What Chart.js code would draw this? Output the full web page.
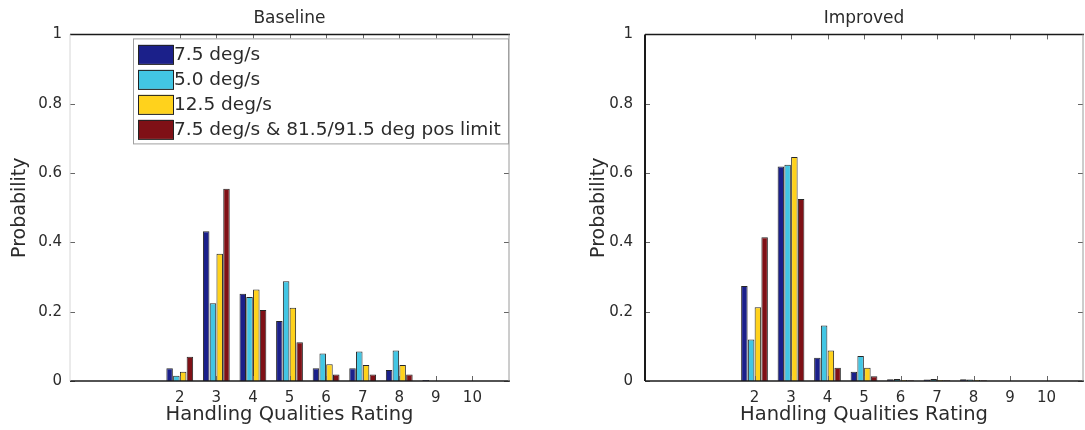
<!DOCTYPE html>
<html>
<head>
<meta charset="utf-8">
<script src="https://cdn.jsdelivr.net/npm/chart.js@4.4.1/dist/chart.umd.min.js"></script>
<style>
  body { margin: 0; background: #fff; }
  #wrap { position: relative; width: 1085px; height: 430px; overflow: hidden; }
  .plot { position: absolute; top: 0; }
</style>
</head>
<body>
<div id="wrap">
  <canvas id="baseline" class="plot" width="540" height="430" style="left:0"></canvas>
  <canvas id="improved" class="plot" width="545" height="430" style="left:540px"></canvas>
</div>
<script>
// data
const ratings = [2, 3, 4, 5, 6, 7, 8, 9, 10];
const seriesLabels = ['7.5 deg/s', '5.0 deg/s', '12.5 deg/s', '7.5 deg/s & 81.5/91.5 deg pos limit'];
const seriesColors = ['#1b208a', '#42c6e4', '#ffd21c', '#7f1016'];

const baseline75  = [0.037, 0.432, 0.252, 0.173, 0.037, 0.037, 0.032, 0.003, 0];
const baseline50  = [0.015, 0.224, 0.242, 0.288, 0.079, 0.085, 0.088, 0, 0];
const baseline125 = [0.027, 0.367, 0.264, 0.211, 0.048, 0.046, 0.046, 0, 0];
const baselineLim = [0.070, 0.555, 0.205, 0.112, 0.019, 0.019, 0.019, 0, 0];

const improved75  = [0.274, 0.619, 0.067, 0.027, 0.005, 0.004, 0.005, 0, 0];
const improved50  = [0.120, 0.624, 0.160, 0.072, 0.006, 0.006, 0.004, 0, 0];
const improved125 = [0.213, 0.646, 0.088, 0.038, 0.003, 0.003, 0.003, 0, 0];
const improvedLim = [0.415, 0.525, 0.038, 0.014, 0.002, 0.002, 0.002, 0, 0];

const yTicks = [0, 0.2, 0.4, 0.6, 0.8, 1];
const yTickLabels = ['0', '0.2', '0.4', '0.6', '0.8', '1'];

Chart.defaults.font.family = '"DejaVu Sans", sans-serif';
Chart.defaults.color = '#2b2b2b';

// box around the axes + small inward tick marks (matlab style)
const frame = {
  id: 'frame',
  afterDatasetsDraw(chart, args, opts) {
    const {ctx, chartArea: a, scales} = chart;
    const line = (x1, y1, x2, y2) => { ctx.beginPath(); ctx.moveTo(x1, y1); ctx.lineTo(x2, y2); ctx.stroke(); };
    ctx.save();
    ctx.lineWidth = 1;
    ctx.strokeStyle = '#666';
    scales.y.ticks.forEach(t => {
      const py = Math.round(scales.y.getPixelForValue(t.value)) + 0.5;
      line(a.left, py, a.left + 5, py);
      line(a.right - 5, py, a.right, py);
    });
    scales.x.ticks.forEach(t => {
      const px = Math.round(scales.x.getPixelForValue(t.value)) + 0.5;
      line(px, a.bottom, px, a.bottom - 5);
      line(px, a.top, px, a.top + 5);
    });
    ctx.lineWidth = 1.5;
    ctx.strokeStyle = opts.top; line(a.left, a.top, a.right + 1, a.top);
    ctx.strokeStyle = opts.bottom; line(a.left, a.bottom, a.right + 1, a.bottom);
    ctx.lineWidth = opts.leftWidth || 1;
    ctx.strokeStyle = opts.left; line(a.left, a.top, a.left, a.bottom);
    ctx.lineWidth = 1;
    ctx.strokeStyle = opts.right; line(a.right, a.top, a.right, a.bottom);
    ctx.restore();
  }
};

// legend box drawn inside the axes
const boxLegend = {
  id: 'boxLegend',
  afterDatasetsDraw(chart, args, opts) {
    if (!opts.show) return;
    const {ctx, chartArea} = chart;
    const x = chartArea.left + opts.dx, y = chartArea.top + opts.dy;
    ctx.save();
    ctx.fillStyle = '#fff';
    ctx.fillRect(x, y, opts.w, opts.h);
    ctx.strokeStyle = '#a0a0a0';
    ctx.lineWidth = 1;
    ctx.strokeRect(x + 0.5, y + 0.5, opts.w, opts.h);
    ctx.font = '18.5px "DejaVu Sans"';
    ctx.textBaseline = 'middle';
    chart.data.datasets.forEach((ds, i) => {
      const cy = y + opts.first + i * opts.step;
      ctx.fillStyle = ds.backgroundColor;
      ctx.fillRect(x + 5, cy - 9.5, 35, 19);
      ctx.strokeStyle = '#222';
      ctx.strokeRect(x + 5.5, cy - 9, 35, 19);
      ctx.fillStyle = '#2b2b2b';
      ctx.fillText(ds.label, x + 41, cy + 1);
    });
    ctx.restore();
  }
};

function makeChart(id, title, series, o) {
  return new Chart(document.getElementById(id), {
    type: 'bar',
    data: {
      datasets: series.map((vals, i) => ({
        label: seriesLabels[i],
        data: ratings.map((r, j) => ({x: r, y: vals[j]})),
        backgroundColor: seriesColors[i],
        borderColor: 'rgba(0,0,0,0.85)',
        borderWidth: 1,
        categoryPercentage: 0.74,
        barPercentage: 0.96
      }))
    },
    options: {
      responsive: false,
      animation: false,
      layout: {padding: {left: 0, right: o.padRight, top: 0, bottom: 0}},
      plugins: {
        legend: {display: false},
        tooltip: {enabled: false},
        title: {
          display: true, text: title, fullSize: false,
          font: {size: 17, weight: 'normal'}, color: '#2b2b2b',
          padding: {top: 8, bottom: 6}
        },
        frame: o.frame,
        boxLegend: o.legend
      },
      scales: {
        x: {
          type: 'linear', min: -1, max: 11, offset: false,
          afterBuildTicks: s => { s.ticks = ratings.map(v => ({value: v})); },
          afterFit: s => { s.height = 49; },
          grid: {display: false, drawTicks: false, offset: false},
          border: {display: false},
          ticks: {font: {size: 15}, padding: 8, maxRotation: 0, callback: v => String(v)},
          title: {display: true, text: 'Handling Qualities Rating', font: {size: 19.5}, padding: {top: 0, bottom: 3}}
        },
        y: {
          min: 0, max: 1,
          afterBuildTicks: s => { s.ticks = yTicks.map(v => ({value: v})); },
          afterFit: s => { s.width = o.yWidth; },
          grid: {display: false, drawTicks: false},
          border: {display: false},
          ticks: {font: {size: 15}, padding: o.tickPad, callback: (v, i) => yTickLabels[i]},
          title: {display: true, text: 'Probability', font: {size: 19}, padding: {top: o.yTitlePad, bottom: 0}}
        }
      }
    },
    plugins: [frame, boxLegend]
  });
}

makeChart('baseline', 'Baseline', [baseline75, baseline50, baseline125, baselineLim], {
  padRight: 31, yWidth: 70, tickPad: 8, yTitlePad: 9,
  frame: {top: '#1a1a1a', bottom: '#1a1a1a', left: '#d6d6d6', right: '#9a9a9a'},
  legend: {show: true, dx: 63, dy: 4, w: 375, h: 105, first: 16, step: 25}
});

makeChart('improved', 'Improved', [improved75, improved50, improved125, improvedLim], {
  padRight: 2, yWidth: 105, tickPad: 12, yTitlePad: 48,
  frame: {top: '#1a1a1a', bottom: '#1a1a1a', left: '#1a1a1a', right: '#9a9a9a', leftWidth: 2},
  legend: {show: false}
});
</script>
</body>
</html>
